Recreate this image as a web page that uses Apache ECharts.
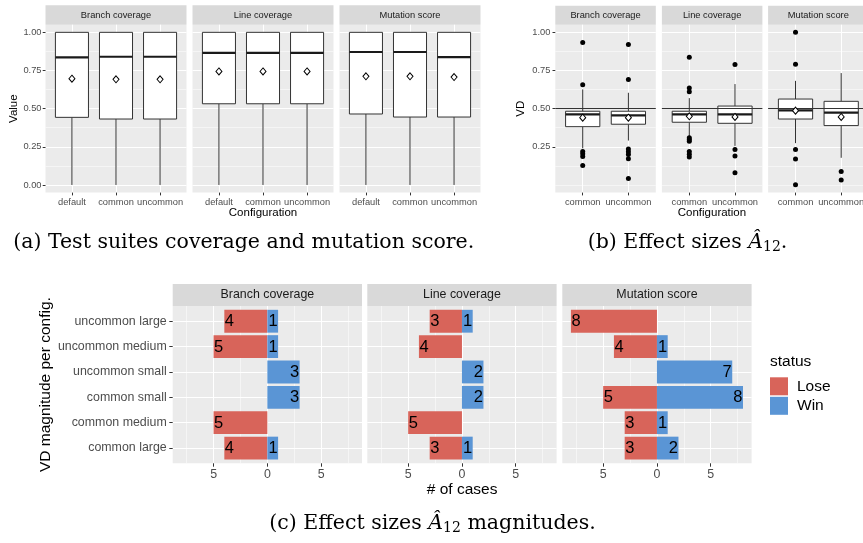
<!DOCTYPE html>
<html><head><meta charset="utf-8">
<script src="https://cdn.jsdelivr.net/npm/echarts@6/dist/echarts.min.js"></script>
<style>html,body{margin:0;padding:0;background:#fff}#c{width:863px;height:543px}</style>
</head><body><div id="c"></div><script>
// ---------- data ----------
const panels = ['Branch coverage', 'Line coverage', 'Mutation score'];
// (a) test-suite coverage / mutation score, box stats [min, q1, median, q3, max]
const configsA = ['default', 'common', 'uncommon'];
const boxBranchA = [[0, 0.443, 0.836, 1, 1], [0, 0.432, 0.840, 1, 1], [0, 0.432, 0.840, 1, 1]];
const boxLineA = [[0, 0.532, 0.866, 1, 1], [0, 0.532, 0.866, 1, 1], [0, 0.532, 0.866, 1, 1]];
const boxMutationA = [[0, 0.465, 0.871, 1, 1], [0, 0.445, 0.871, 1, 1], [0, 0.445, 0.838, 1, 1]];
const meanBranchA = [0.696, 0.692, 0.692];
const meanLineA = [0.744, 0.744, 0.744];
const meanMutationA = [0.712, 0.712, 0.707];
const yTicksA = [0, 0.25, 0.5, 0.75, 1];
const yMinorA = [0.125, 0.375, 0.625, 0.875];
// (b) effect sizes VD
const configsB = ['common', 'uncommon'];
const boxBranchB = [[0.24, 0.382, 0.463, 0.483, 0.626], [0.291, 0.398, 0.456, 0.483, 0.604]];
const boxLineB = [[0.317, 0.411, 0.463, 0.483, 0.569], [0.256, 0.404, 0.463, 0.517, 0.661]];
const boxMutationB = [[0.274, 0.432, 0.489, 0.563, 0.682], [0.178, 0.389, 0.474, 0.548, 0.733]];
const meanBranchB = [0.441, 0.441];
const meanLineB = [0.45, 0.446];
const meanMutationB = [0.487, 0.446];
const outBranchB = [[0.933, 0.656, 0.219, 0.204, 0.187, 0.128], [0.921, 0.691, 0.235, 0.217, 0.2, 0.172, 0.043]];
const outLineB = [[0.837, 0.635, 0.611, 0.309, 0.298, 0.287, 0.219, 0.202, 0.183], [0.789, 0.232, 0.189, 0.08]];
const outMutationB = [[1.0, 0.791, 0.232, 0.17, 0.002], [0.089, 0.033]];
const yTicksB = [0.25, 0.5, 0.75, 1];
const yMinorB = [0, 0.125, 0.375, 0.625, 0.875];
const refLineB = 0.5;
// (c) magnitudes (bottom to top)
const magnitudes = ['common large', 'common medium', 'common small', 'uncommon small', 'uncommon medium', 'uncommon large'];
const loseBranch = [4, 5, 0, 0, 5, 4];
const winBranch = [1, 0, 3, 3, 1, 1];
const loseLine = [3, 5, 0, 0, 4, 3];
const winLine = [1, 0, 2, 2, 0, 1];
const loseMutation = [3, 3, 5, 0, 4, 8];
const winMutation = [2, 1, 8, 7, 1, 0];
const xTicksC = [-5, 0, 5];
const xMinorC = [-7.5, -2.5, 2.5, 7.5];
const statusNames = ['Lose', 'Win'];

// ---------- style ----------
const FF = '"Liberation Sans", Arial, Helvetica, sans-serif';
const SERIF = '"DejaVu Serif", serif';
const PANEL_BG = '#EBEBEB', STRIP_BG = '#D9D9D9';
const LOSE_C = '#D8645A', WIN_C = '#5A95D5';
const CAP_FS = 20.5;

const grid = [], xAxis = [], yAxis = [], series = [], graphic = [];

function addPanel(left, top, width, height, stripTop, stripH, label, fs) {
  grid.push({left: left, top: top, width: width, height: height, show: true,
    backgroundColor: PANEL_BG, borderWidth: 0, outerBoundsMode: 'none', containLabel: false});
  graphic.push({type: 'rect', silent: true, shape: {x: left, y: stripTop, width: width, height: stripH}, style: {fill: STRIP_BG}});
  graphic.push({type: 'text', silent: true, x: left + width / 2, y: stripTop + stripH / 2,
    style: {text: label, align: 'center', verticalAlign: 'middle', fontSize: fs, fontFamily: FF, fill: '#1A1A1A'}});
  return grid.length - 1;
}

function renderBox(params, api) {
  const x = api.value(0);
  const lo = api.coord([x, api.value(1)]);
  const q1 = api.coord([x, api.value(2)]);
  const md = api.coord([x, api.value(3)]);
  const q3 = api.coord([x, api.value(4)]);
  const hi = api.coord([x, api.value(5)]);
  const w = api.size([0.75, 0])[0];
  const cx = lo[0];
  const ls = {stroke: '#333333', lineWidth: 1};
  return {type: 'group', children: [
    {type: 'line', shape: {x1: cx, y1: q1[1], x2: cx, y2: lo[1]}, style: ls},
    {type: 'line', shape: {x1: cx, y1: q3[1], x2: cx, y2: hi[1]}, style: ls},
    {type: 'rect', shape: {x: cx - w / 2, y: q3[1], width: w, height: q1[1] - q3[1]}, style: {fill: '#fff', stroke: '#333333', lineWidth: 1}},
    {type: 'line', shape: {x1: cx - w / 2, y1: md[1], x2: cx + w / 2, y2: md[1]}, style: {stroke: '#1A1A1A', lineWidth: 2.2}}
  ]};
}

function renderBar(params, api) {
  const v = api.value(0), idx = api.value(1);
  if (!v) return {type: 'group', children: []};
  const p0 = api.coord([0, idx]), p1 = api.coord([v, idx]);
  const h = api.size([0, 0.9])[1];
  return {type: 'group', children: [
    {type: 'rect', shape: {x: Math.min(p0[0], p1[0]), y: p0[1] - h / 2, width: Math.abs(p1[0] - p0[0]), height: h},
      style: {fill: api.visual('color')}},
    {type: 'text', style: {text: String(Math.abs(v)), x: p1[0] + (v < 0 ? 0.5 : -0.5), y: p0[1] + 0.5,
      align: v < 0 ? 'left' : 'right', verticalAlign: 'middle', fontSize: 16.5, fontFamily: FF, fill: '#000'}}
  ]};
}

const noLine = {show: false, onZero: false};

function boxPanel(o) {
  const g = addPanel(o.left, o.top, o.width, o.height, o.stripTop, o.stripH, o.label, 9.3);
  const n = o.cats.length;
  const catIdx = o.cats.map(function (c, i) { return i; });
  const xi = xAxis.length;
  xAxis.push({type: 'value', gridIndex: g, min: -0.6, max: n - 0.4, position: 'bottom',
    axisLine: noLine,
    axisTick: {show: true, length: 2.8, customValues: catIdx, lineStyle: {color: '#333333', width: 1}},
    axisLabel: {show: true, customValues: catIdx, formatter: function (v) { return o.cats[Math.round(v)]; },
      color: '#4D4D4D', fontSize: 9.3, fontFamily: FF, margin: 5.5},
    splitLine: {show: true, lineStyle: {color: '#FFFFFF', width: 1}}});
  const yi = yAxis.length;
  yAxis.push({type: 'value', gridIndex: g, min: -0.05, max: 1.05, position: 'left',
    axisLine: noLine,
    axisTick: {show: o.showY, length: 2.8, customValues: o.yTicks, lineStyle: {color: '#333333', width: 1}},
    axisLabel: {show: o.showY, customValues: o.yTicks, formatter: function (v) { return v.toFixed(2); },
      color: '#4D4D4D', fontSize: 9.3, fontFamily: FF, margin: o.yMargin},
    splitLine: {show: true, lineStyle: {color: '#FFFFFF', width: 1}}});
  yAxis.push({type: 'value', gridIndex: g, min: -0.05, max: 1.05, position: 'left',
    axisLine: noLine,
    axisTick: {show: false, customValues: o.yMinor},
    axisLabel: {show: false, customValues: o.yMinor},
    splitLine: {show: true, lineStyle: {color: '#FFFFFF', width: 0.5}}});
  series.push({type: 'custom', xAxisIndex: xi, yAxisIndex: yi, silent: true, clip: false, z: 2,
    renderItem: renderBox, encode: {x: 0, y: [1, 2, 3, 4, 5]},
    data: o.boxes.map(function (b, i) { return [i].concat(b); })});
  if (o.outliers) {
    const pts = [];
    o.outliers.forEach(function (arr, i) { arr.forEach(function (v) { pts.push([i, v]); }); });
    series.push({type: 'scatter', xAxisIndex: xi, yAxisIndex: yi, silent: true, z: 3,
      symbol: 'circle', symbolSize: 5, itemStyle: {color: '#000', opacity: 1}, data: pts,
      markLine: {silent: true, symbol: ['none', 'none'], label: {show: false}, z: 5,
        lineStyle: {color: '#333333', width: 1, type: 'solid'}, emphasis: {disabled: true},
        data: [{yAxis: o.refLine}]}});
  }
  series.push({type: 'scatter', xAxisIndex: xi, yAxisIndex: yi, silent: true, z: 6,
    symbol: 'diamond', symbolSize: [6, 7], itemStyle: {color: '#FFFFFF', borderColor: '#000', borderWidth: 1, opacity: 1},
    data: o.means.map(function (m, i) { return [i, m]; })});
}

// ---------- (a) ----------
const A = {top: 24.7, height: 167.9, lefts: [45.5, 192.5, 339.5], width: 141, stripTop: 5.3, stripH: 19.4};
const boxesA = [boxBranchA, boxLineA, boxMutationA];
const meansA = [meanBranchA, meanLineA, meanMutationA];
for (let i = 0; i < 3; i++) {
  boxPanel({left: A.lefts[i], top: A.top, width: A.width, height: A.height, stripTop: A.stripTop, stripH: A.stripH,
    label: panels[i], cats: configsA, boxes: boxesA[i], means: meansA[i], yTicks: yTicksA, yMinor: yMinorA,
    showY: i === 0, yMargin: 4});
}
// ---------- (b) ----------
const B = {top: 24.7, height: 167.9, lefts: [555.3, 661.9, 768.1], width: 100.5, stripTop: 5.8, stripH: 18.9};
const boxesB = [boxBranchB, boxLineB, boxMutationB];
const meansB = [meanBranchB, meanLineB, meanMutationB];
const outB = [outBranchB, outLineB, outMutationB];
for (let i = 0; i < 3; i++) {
  boxPanel({left: B.lefts[i], top: B.top, width: B.width, height: B.height, stripTop: B.stripTop, stripH: B.stripH,
    label: panels[i], cats: configsB, boxes: boxesB[i], means: meansB[i], outliers: outB[i], refLine: refLineB,
    yTicks: yTicksB, yMinor: yMinorB, showY: i === 0, yMargin: 5});
}
// ---------- (c) ----------
const C = {top: 306, height: 157.3, lefts: [172.7, 367.3, 562.3], width: 189.3, stripTop: 284, stripH: 22};
const loses = [loseBranch, loseLine, loseMutation];
const wins = [winBranch, winLine, winMutation];
const magIdx = magnitudes.map(function (m, i) { return i; });
for (let i = 0; i < 3; i++) {
  const g = addPanel(C.lefts[i], C.top, C.width, C.height, C.stripTop, C.stripH, panels[i], 12.4);
  const xi = xAxis.length;
  xAxis.push({type: 'value', gridIndex: g, min: -8.8, max: 8.8, position: 'bottom',
    axisLine: noLine,
    axisTick: {show: true, length: 3.4, customValues: xTicksC, lineStyle: {color: '#333333', width: 1}},
    axisLabel: {show: true, customValues: xTicksC, formatter: function (v) { return String(Math.abs(v)); },
      color: '#4D4D4D', fontSize: 12.4, fontFamily: FF, margin: 5},
    splitLine: {show: true, lineStyle: {color: '#FFFFFF', width: 1}}});
  xAxis.push({type: 'value', gridIndex: g, min: -8.8, max: 8.8, position: 'bottom',
    axisLine: noLine, axisTick: {show: false, customValues: xMinorC},
    axisLabel: {show: false, customValues: xMinorC},
    splitLine: {show: true, lineStyle: {color: '#FFFFFF', width: 0.5}}});
  const yi = yAxis.length;
  yAxis.push({type: 'value', gridIndex: g, min: -0.6, max: magnitudes.length - 0.4, position: 'left',
    axisLine: noLine,
    axisTick: {show: i === 0, length: 3.4, customValues: magIdx, lineStyle: {color: '#333333', width: 1}},
    axisLabel: {show: i === 0, customValues: magIdx, formatter: function (v) { return magnitudes[Math.round(v)]; },
      color: '#4D4D4D', fontSize: 12.4, fontFamily: FF, margin: 6},
    splitLine: {show: true, lineStyle: {color: '#FFFFFF', width: 1}}});
  series.push({type: 'custom', name: statusNames[0], xAxisIndex: xi, yAxisIndex: yi, silent: true, z: 3,
    renderItem: renderBar, encode: {x: 0, y: 1}, itemStyle: {color: LOSE_C},
    data: loses[i].map(function (v, k) { return [-v, k]; })});
  series.push({type: 'custom', name: statusNames[1], xAxisIndex: xi, yAxisIndex: yi, silent: true, z: 3,
    renderItem: renderBar, encode: {x: 0, y: 1}, itemStyle: {color: WIN_C},
    data: wins[i].map(function (v, k) { return [v, k]; })});
}

// ---------- titles & captions ----------
function txt(x, y, s, fs, opt) {
  opt = opt || {};
  graphic.push({type: 'text', silent: true, x: x, y: y, rotation: opt.rot || 0,
    style: {text: s, align: opt.align || 'center', verticalAlign: 'middle', fontSize: fs,
      fontFamily: opt.ff || FF, fill: opt.fill || '#000', rich: opt.rich}});
}
txt(13.5, A.top + A.height / 2, 'Value', 11.5, {rot: Math.PI / 2});
txt((A.lefts[0] + A.lefts[2] + A.width) / 2, 213, 'Configuration', 11.5);
txt(521, B.top + B.height / 2, 'VD', 11.5, {rot: Math.PI / 2});
txt((B.lefts[0] + B.lefts[2] + B.width) / 2, 213, 'Configuration', 11.5);
txt(45.5, C.top + C.height / 2, 'VD magnitude per config.', 15.5, {rot: Math.PI / 2});
txt((C.lefts[0] + C.lefts[2] + C.width) / 2, 490, '# of cases', 15.5);
txt(770, 361.7, 'status', 15.5, {align: 'left'});

const capRich = {
  a: {fontFamily: SERIF, fontSize: CAP_FS, fontStyle: 'italic', fill: '#000'},
  s: {fontFamily: SERIF, fontSize: 14, fill: '#000', padding: [8, 0, 0, 0]}
};
txt(243.7, 243, '(a) Test suites coverage and mutation score.', CAP_FS, {ff: SERIF});
txt(687.5, 243, '(b) Effect sizes {a|Â}{s|12}.', CAP_FS, {ff: SERIF, rich: capRich});
txt(432.5, 524, '(c) Effect sizes {a|Â}{s|12} magnitudes.', CAP_FS, {ff: SERIF, rich: capRich});

const chart = echarts.init(document.getElementById('c'), null, {renderer: 'canvas'});
chart.setOption({
  animation: false,
  backgroundColor: '#FFFFFF',
  grid: grid, xAxis: xAxis, yAxis: yAxis, series: series, graphic: graphic,
  legend: {data: statusNames, orient: 'vertical', left: 770, top: 377.3, itemWidth: 18, itemHeight: 18, itemGap: 1.5,
    icon: 'rect', selectedMode: false, padding: 0,
    textStyle: {fontSize: 15.5, fontFamily: FF, color: '#000', padding: [0, 0, 0, 4]}}
});
</script></body></html>
